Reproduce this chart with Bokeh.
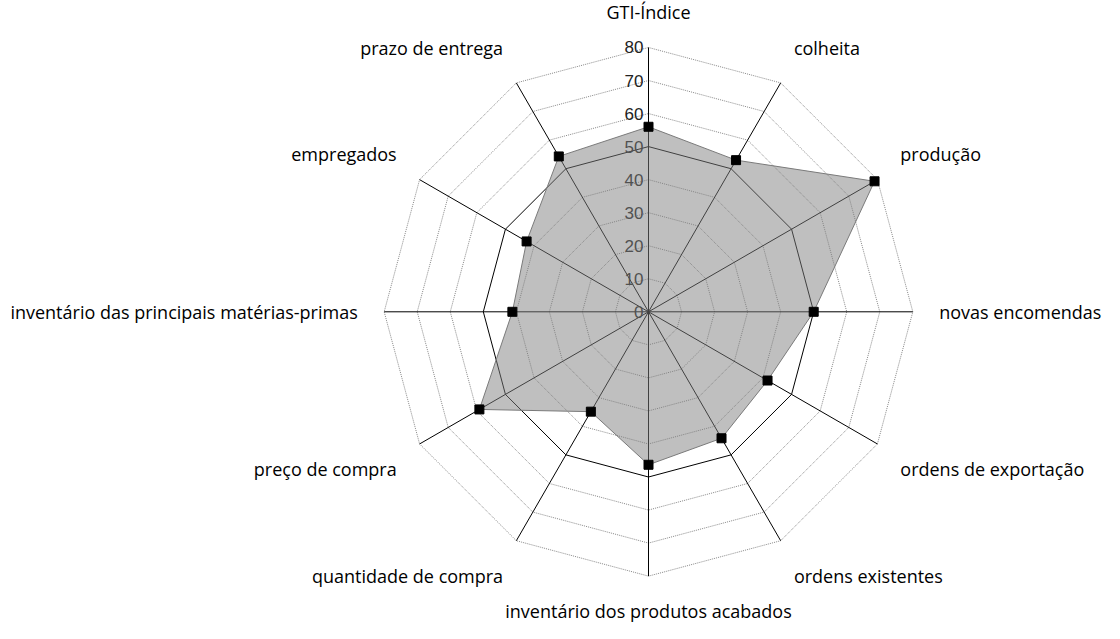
import math
from bokeh.plotting import figure
from bokeh.models import Range1d
from bokeh.core.properties import value
from bokeh.embed import file_html
from bokeh.resources import INLINE

categories = [
    "GTI-Índice", "colheita", "produção", "novas encomendas",
    "ordens de exportação", "ordens existentes",
    "inventário dos produtos acabados", "quantidade de compra",
    "preço de compra", "inventário das principais matérias-primas",
    "empregados", "prazo de entrega",
]
values = [56, 53, 79, 50, 41.6, 44.2, 46.3, 34.9, 59.1, 41.2, 42.6, 54.3]
tick_levels = [0, 10, 20, 30, 40, 50, 60, 70, 80]
tick_labels = ["0", "10", "20", "30", "40", "50", "60", "70", "80"]

W, H = 1104, 623
cx, cy = 648.0, 311.3          # centre in canvas px
scale = 3.304                  # px per unit
label_r = 88.0

n = len(categories)
angles = [2 * math.pi * i / n for i in range(n)]

p = figure(width=W, height=H, output_backend="svg", toolbar_location=None,
           x_range=Range1d(-cx / scale, (W - cx) / scale),
           y_range=Range1d(-(H - cy) / scale, cy / scale),
           min_border=0, outline_line_color=None)
p.axis.visible = False
p.grid.visible = False
p.background_fill_color = "white"
p.border_fill_color = "white"

# rings
dot_xs, dot_ys, sol_xs, sol_ys = [], [], [], []
for lv in tick_levels[1:]:
    xs = [lv * math.sin(a) for a in angles]
    ys = [lv * math.cos(a) for a in angles]
    xs.append(xs[0]); ys.append(ys[0])
    if lv == 50:
        sol_xs.append(xs); sol_ys.append(ys)
    else:
        dot_xs.append(xs); dot_ys.append(ys)
p.multi_line(dot_xs, dot_ys, line_color="#8a8a8a", line_width=1, line_dash="1 1")
p.multi_line(sol_xs, sol_ys, line_color="#000000", line_width=1)

# spokes
top = tick_levels[-1]
p.multi_line([[0, top * math.sin(a)] for a in angles],
             [[0, top * math.cos(a)] for a in angles],
             line_color="#000000", line_width=1)

# tick labels
p.text(x=[0] * len(tick_levels), y=tick_levels, text=tick_labels,
       text_align="right", text_baseline="middle", x_offset=-5,
       text_font=value("Liberation Sans"), text_font_size="17px",
       text_color="#222222")

# data area
px = [v * math.sin(a) for v, a in zip(values, angles)]
py = [v * math.cos(a) for v, a in zip(values, angles)]
p.patch(px, py, fill_color="#808080", fill_alpha=0.5,
        line_color="#7a7a7a", line_width=1)
p.scatter(px, py, marker="square", size=9, color="#000000")

# category labels
for cat, a in zip(categories, angles):
    s, c = math.sin(a), math.cos(a)
    align = "left" if s > 0.01 else ("right" if s < -0.01 else "center")
    base = "bottom" if c > 0.01 else ("top" if c < -0.01 else "middle")
    yoff = 0
    if abs(s) < 0.01:
        yoff = 3 if c > 0 else -4
    p.text(x=[label_r * s], y=[label_r * c], text=[cat],
           text_align=align, text_baseline=base, y_offset=yoff,
           text_font=value("Open Sans"), text_font_size="18px",
           text_color="#000000")

open("out.html", "w").write(file_html(p, INLINE))
